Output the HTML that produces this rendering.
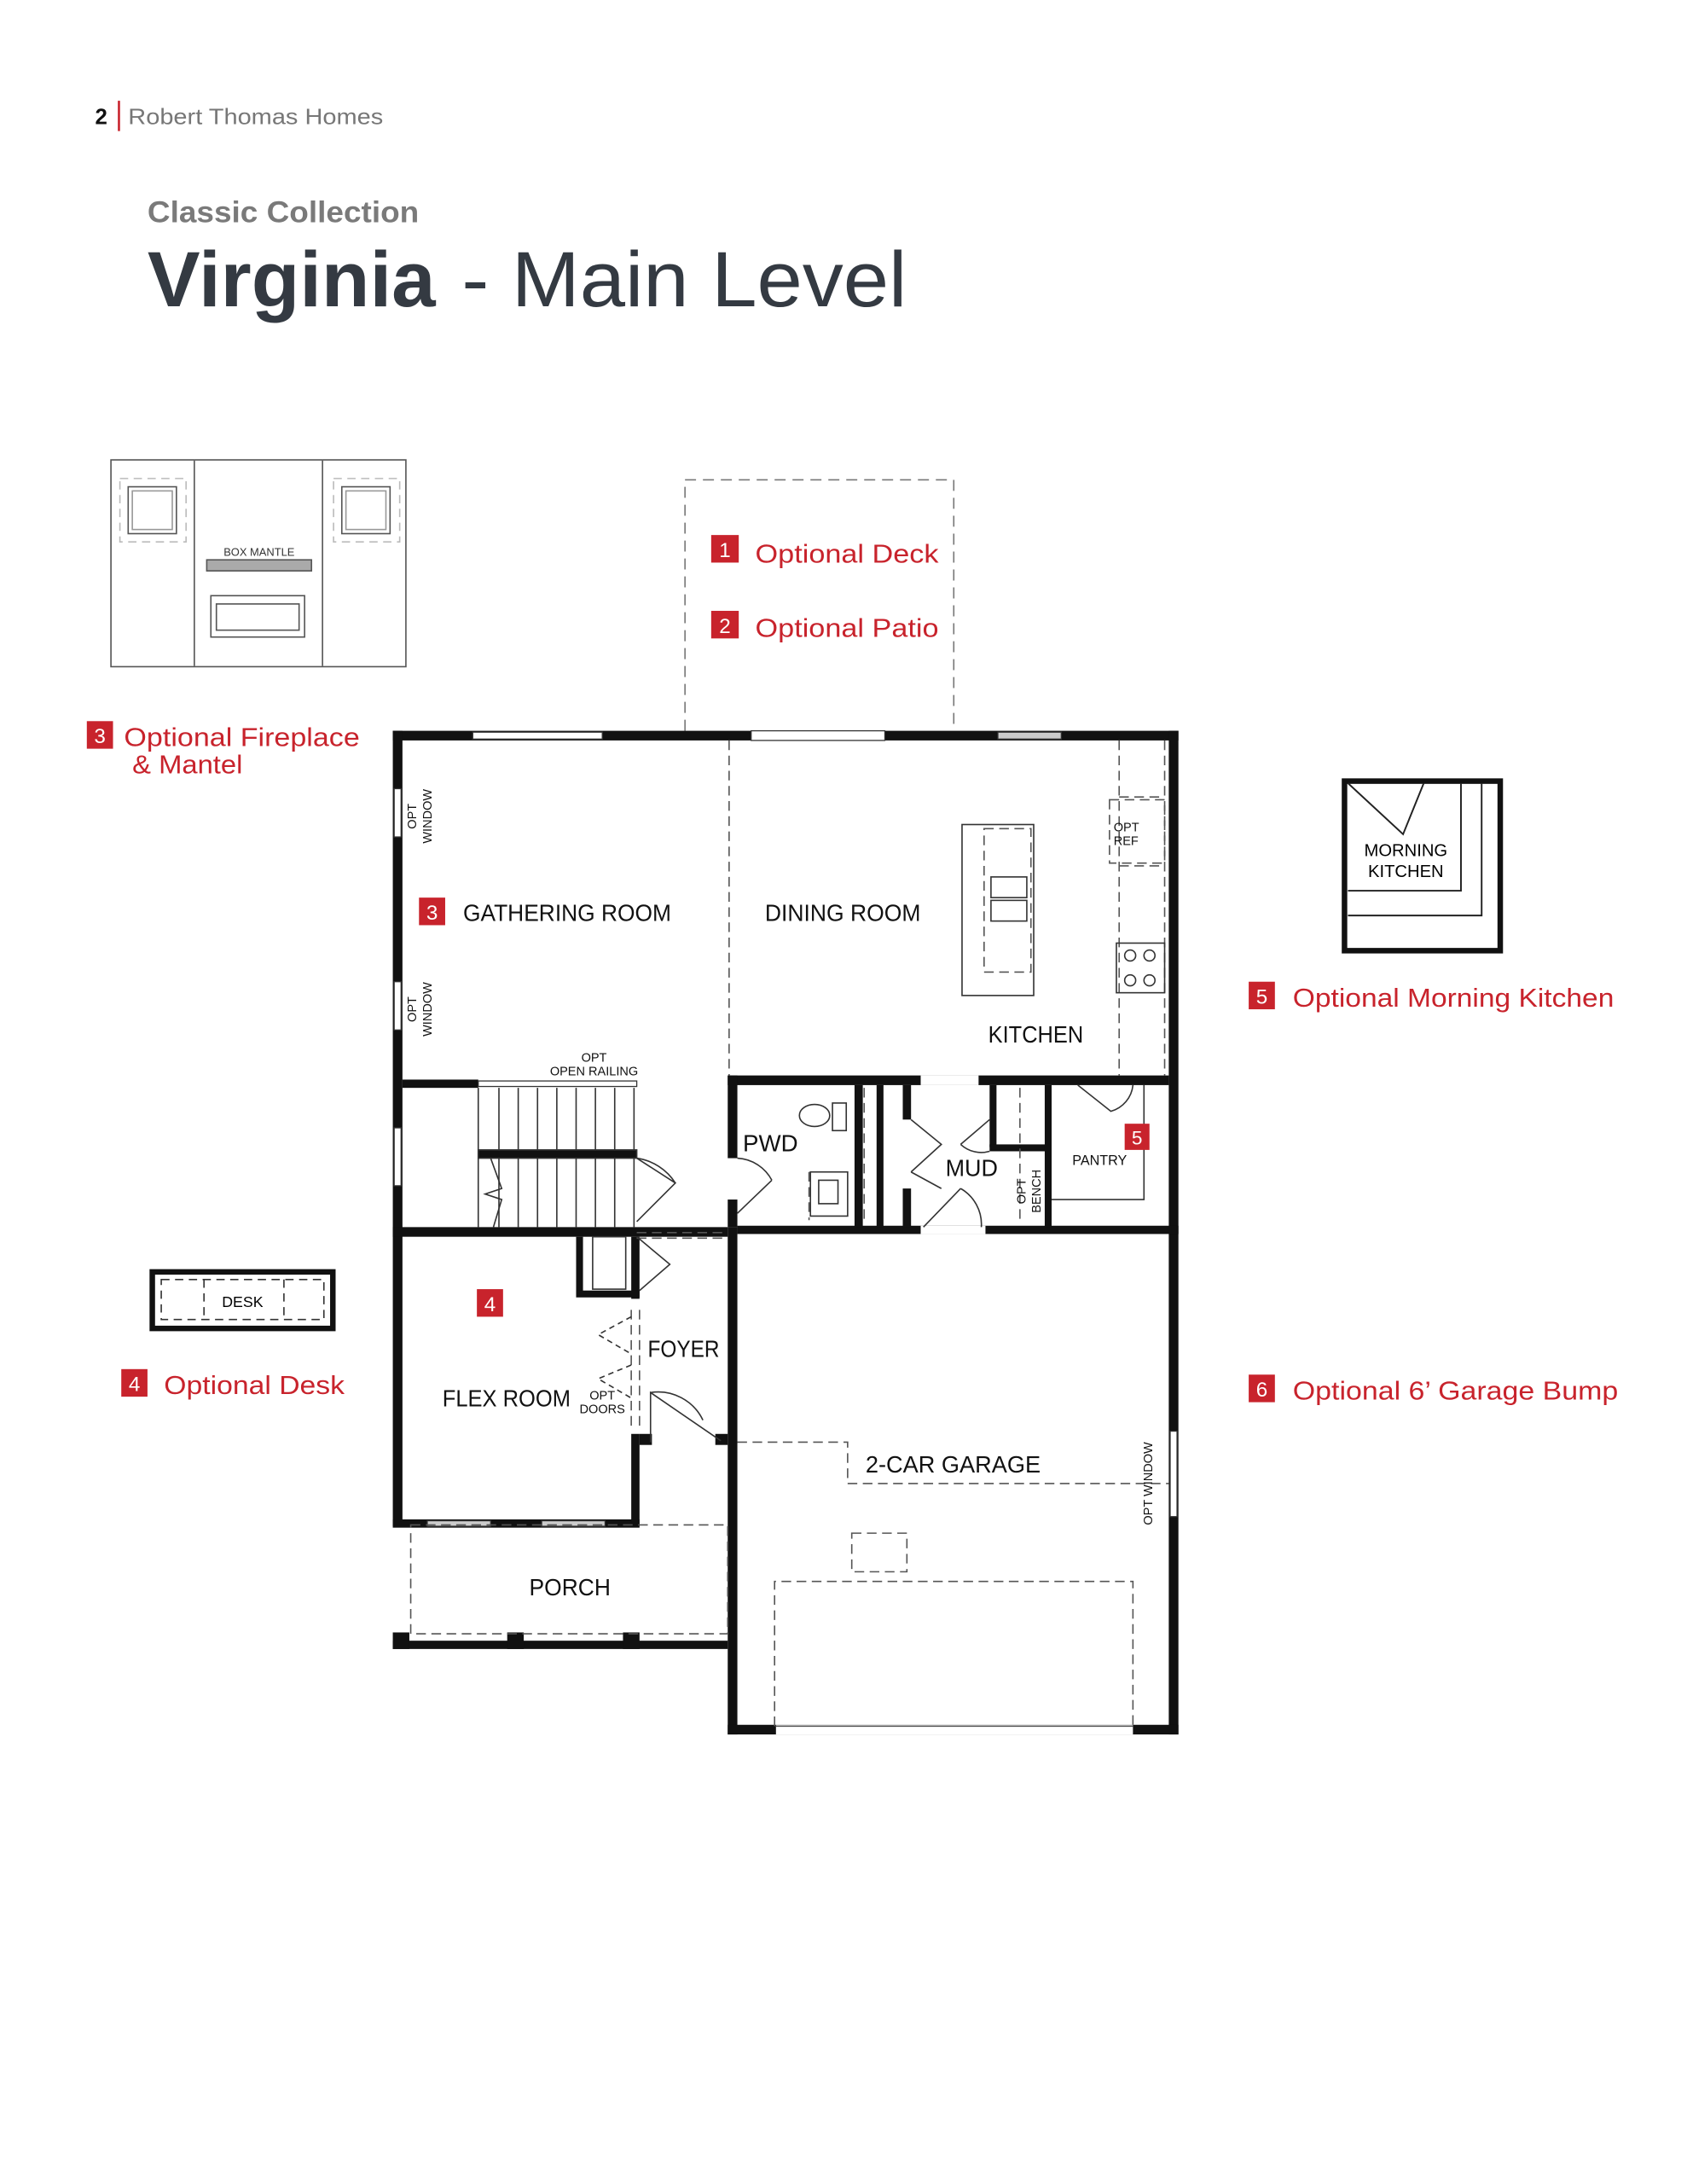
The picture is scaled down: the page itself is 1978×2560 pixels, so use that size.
<!DOCTYPE html>
<html><head><meta charset="utf-8"><style>
html,body{margin:0;padding:0;background:#fff}
svg{display:block}
text{font-family:"Liberation Sans",sans-serif}
</style></head><body>
<svg width="1978" height="2560" viewBox="0 0 1224 1584" xmlns="http://www.w3.org/2000/svg">
<rect width="1224" height="1584" fill="#fff"/>
<!-- header -->
<text x="69" y="90" font-size="16" font-weight="bold" fill="#111">2</text>
<rect x="85.5" y="73" width="1.6" height="22" fill="#c8232c"/>
<text x="93" y="90" font-size="16" fill="#777" textLength="185" lengthAdjust="spacingAndGlyphs">Robert Thomas Homes</text>
<text x="107" y="161" font-size="22" font-weight="bold" fill="#7a7a7a" textLength="197" lengthAdjust="spacingAndGlyphs">Classic Collection</text>
<text x="107" y="222" font-size="57" fill="#343a42" font-weight="bold" textLength="209" lengthAdjust="spacingAndGlyphs">Virginia</text>
<text x="335" y="222" font-size="57" fill="#343a42" textLength="323" lengthAdjust="spacingAndGlyphs">- Main Level</text>

<!-- fireplace elevation -->
<g fill="none" stroke="#555" stroke-width="1">
<rect x="80.5" y="333.5" width="214" height="150"/>
<line x1="141" y1="334" x2="141" y2="483"/><line x1="234" y1="334" x2="234" y2="483"/>
<rect x="93" y="353" width="35" height="34"/><rect x="96" y="356" width="29" height="28" stroke="#999"/>
<rect x="87" y="347" width="48" height="46" stroke="#bbb" stroke-dasharray="6 4"/>
<rect x="248" y="353" width="35" height="34"/><rect x="251" y="356" width="29" height="28" stroke="#999"/>
<rect x="242" y="347" width="48" height="46" stroke="#bbb" stroke-dasharray="6 4"/>
<rect x="150" y="406" width="76" height="8" fill="#aaa"/>
<rect x="153" y="432" width="68" height="30"/><rect x="157" y="438" width="60" height="19"/>
</g>
<text x="188" y="403" font-size="8" text-anchor="middle" fill="#333">BOX MANTLE</text>

<!-- red labels -->
<g font-size="19" fill="#c8232c">
<rect x="63" y="523" width="19" height="20"/><text x="72.5" y="539" fill="#fff" font-size="15" text-anchor="middle">3</text>
<text x="90" y="541" textLength="171" lengthAdjust="spacingAndGlyphs">Optional Fireplace</text><text x="96" y="561" textLength="80" lengthAdjust="spacingAndGlyphs">&amp; Mantel</text>
<rect x="516" y="388" width="20" height="20"/><text x="526" y="404" fill="#fff" font-size="15" text-anchor="middle">1</text>
<text x="548" y="408" textLength="133" lengthAdjust="spacingAndGlyphs">Optional Deck</text>
<rect x="516" y="443" width="20" height="20"/><text x="526" y="459" fill="#fff" font-size="15" text-anchor="middle">2</text>
<text x="548" y="462" textLength="133" lengthAdjust="spacingAndGlyphs">Optional Patio</text>
<rect x="906" y="712" width="19" height="20"/><text x="915.5" y="728" fill="#fff" font-size="15" text-anchor="middle">5</text>
<text x="938" y="730" textLength="233" lengthAdjust="spacingAndGlyphs">Optional Morning Kitchen</text>
<rect x="88" y="993" width="19" height="20"/><text x="97.5" y="1009" fill="#fff" font-size="15" text-anchor="middle">4</text>
<text x="119" y="1011" textLength="131" lengthAdjust="spacingAndGlyphs">Optional Desk</text>
<rect x="906" y="997" width="19" height="20"/><text x="915.5" y="1013" fill="#fff" font-size="15" text-anchor="middle">6</text>
<text x="938" y="1015" textLength="236" lengthAdjust="spacingAndGlyphs">Optional 6’ Garage Bump</text>
</g>

<!-- deck dashed -->
<path d="M497 530 V348 H692 V530" fill="none" stroke="#777" stroke-dasharray="8 5"/>

<!-- morning kitchen -->
<rect x="975.5" y="566.5" width="113" height="123" fill="none" stroke="#111" stroke-width="4"/>
<path d="M978 568 L1018 605 L1033 568 M1060 568 V646 H978 M1075 568 V664 H978" fill="none" stroke="#222" stroke-width="1.2"/>
<text x="1020" y="621" font-size="12.5" text-anchor="middle">MORNING</text>
<text x="1020" y="636" font-size="12.5" text-anchor="middle">KITCHEN</text>

<!-- desk -->
<rect x="110.5" y="922.5" width="131" height="41" fill="none" stroke="#111" stroke-width="4"/>
<rect x="117" y="928" width="118" height="29" fill="none" stroke="#333" stroke-dasharray="6 4"/>
<line x1="148" y1="928" x2="148" y2="957" stroke="#333" stroke-dasharray="6 4"/>
<line x1="206" y1="928" x2="206" y2="957" stroke="#333" stroke-dasharray="6 4"/>
<text x="176" y="948" font-size="11" text-anchor="middle">DESK</text>

<!-- PLAN walls -->
<g fill="#111">
<rect x="285" y="530" width="570" height="7"/>
<rect x="285" y="530" width="7" height="577"/>
<rect x="848" y="530" width="7" height="728"/>
<rect x="528" y="890" width="7" height="368"/>
<rect x="528" y="1251" width="327" height="7"/>
<rect x="285" y="890" width="243" height="7"/>
<rect x="535" y="889" width="320" height="6"/>
<rect x="292" y="783" width="55" height="6"/>
<rect x="528" y="780" width="320" height="7"/>
<rect x="528" y="780" width="7" height="60"/>
<rect x="528" y="870" width="7" height="20"/>
<rect x="620" y="787" width="6" height="103"/>
<rect x="636" y="787" width="5" height="103"/>
<rect x="655" y="787" width="6" height="25"/>
<rect x="655" y="862" width="6" height="28"/>
<rect x="718" y="787" width="5" height="45"/>
<rect x="718" y="830" width="42" height="5"/>
<rect x="758" y="787" width="5" height="103"/>
<rect x="285" y="1102" width="179" height="6"/>
<rect x="458" y="1040" width="6" height="67"/>
<rect x="458" y="897" width="6" height="45"/>
<rect x="418" y="897" width="5" height="43"/>
<rect x="418" y="936" width="46" height="5"/>
<rect x="464" y="1040" width="9" height="8"/>
<rect x="519" y="1040" width="9" height="8"/>
<rect x="285" y="1190" width="243" height="6"/>
<rect x="285" y="1184" width="12" height="12"/>
<rect x="368" y="1184" width="12" height="12"/>
<rect x="452" y="1184" width="12" height="12"/>
</g>
<!-- windows / openings (white over walls) -->
<g fill="#fff" stroke="#333" stroke-width="0.8">
<rect x="343" y="531" width="94" height="5"/>
<rect x="545" y="530" width="97" height="7"/>
<rect x="724" y="531" width="46" height="5" fill="#ccc"/>
<rect x="286" y="572" width="5" height="35"/>
<rect x="286" y="712" width="5" height="35"/>
<rect x="286" y="818" width="5" height="42"/>
<rect x="310" y="1103" width="46" height="4" fill="#ccc"/>
<rect x="393" y="1103" width="46" height="4" fill="#ccc"/>
<rect x="849" y="1038" width="5" height="62"/>
<rect x="668" y="780" width="42" height="7" stroke="none"/>
<rect x="668" y="889" width="47" height="6" stroke="none"/>
<rect x="563" y="1251" width="259" height="7" stroke="none"/>
<rect x="347" y="784" width="115" height="4"/>
</g>
<line x1="563" y1="1252" x2="822" y2="1252" stroke="#555"/>
<!-- dashed plan lines -->
<g fill="none" stroke="#555" stroke-dasharray="7 4" stroke-width="1">
<line x1="529" y1="537" x2="529" y2="780"/>
<rect x="298" y="1106" width="230" height="79"/>
<path d="M535 1046 H615 V1076 H848"/>
<rect x="618" y="1112" width="40" height="28"/>
<path d="M562 1252 V1147 H822 V1252"/>
<line x1="462" y1="894" x2="528" y2="894"/>
<line x1="462" y1="898" x2="528" y2="898"/>
<path d="M812 537 V780 M845 537 V780 M812 578 H845 M812 628 H845"/>
<rect x="805" y="580" width="40" height="46"/>
<rect x="714" y="601" width="34" height="104"/>
<line x1="740" y1="789" x2="740" y2="888"/>
<line x1="458" y1="950" x2="458" y2="1035"/>
<line x1="464" y1="950" x2="464" y2="1035"/>
<line x1="627" y1="789" x2="627" y2="888"/>
<line x1="587" y1="850" x2="587" y2="885"/>
</g>
<!-- island & appliances -->
<g fill="none" stroke="#333" stroke-width="1">
<rect x="698" y="598" width="52" height="124"/>
<rect x="719" y="636" width="26" height="15"/><rect x="719" y="653" width="26" height="15"/>
<rect x="810" y="684" width="35" height="36"/>
<circle cx="820" cy="693" r="4"/><circle cx="834" cy="693" r="4"/><circle cx="820" cy="711" r="4"/><circle cx="834" cy="711" r="4"/>
<ellipse cx="591" cy="809" rx="11" ry="8"/><rect x="604" y="800" width="10" height="20"/>
<rect x="588" y="850" width="27" height="32"/><rect x="594" y="856" width="14" height="17"/>
<line x1="347" y1="789" x2="347" y2="890"/>
<path d="M362 789 V890 M376 789 V890 M390 789 V890 M404 789 V890 M418 789 V890 M432 789 V890 M446 789 V890 M460 789 V890"/>
<rect x="347" y="834" width="115" height="6" fill="#111"/>
<path d="M356 840 L364 862 L352 866 L364 870 L358 890" />
<path d="M462 840 L490 858 L462 886 M462 840 A40 40 0 0 1 490 858"/>
<path d="M535 880 L560 856 M560 856 A30 30 0 0 0 535 840"/>
<path d="M462 897 L486 917 L464 936"/>
<path d="M472 1046 V1010 L523 1045 M472 1010 A36 36 0 0 1 510 1030"/>
<path d="M670 890 L697 862 M697 862 A30 30 0 0 1 712 890"/>
<path d="M661 812 L683 830 L661 850 M661 850 L683 862"/>
<path d="M718 812 L697 830 M697 830 A22 22 0 0 0 718 835"/>
<path d="M782 787 L806 806 A22 22 0 0 0 822 787"/>
<path d="M763 870 H830 V787"/>
<path d="M458 955 L434 968 L458 982 M458 990 L434 1000 L458 1014" stroke-dasharray="4 3"/>
<rect x="430" y="897" width="24" height="38"/>
</g>
<!-- room labels -->
<g font-size="17" fill="#111">
<rect x="304" y="651" width="19" height="20" fill="#c8232c"/><text x="313.5" y="667" fill="#fff" font-size="15" text-anchor="middle">3</text>
<text x="336" y="668" textLength="151" lengthAdjust="spacingAndGlyphs">GATHERING ROOM</text>
<text x="555" y="668" textLength="113" lengthAdjust="spacingAndGlyphs">DINING ROOM</text>
<text x="717" y="756" textLength="69" lengthAdjust="spacingAndGlyphs">KITCHEN</text>
<text x="539" y="835" textLength="40" lengthAdjust="spacingAndGlyphs">PWD</text>
<text x="686" y="853" textLength="38" lengthAdjust="spacingAndGlyphs">MUD</text>
<rect x="816" y="815" width="18" height="19" fill="#c8232c"/><text x="825" y="830" fill="#fff" font-size="14" text-anchor="middle">5</text>
<text x="778" y="845" font-size="10">PANTRY</text>
<rect x="346" y="935" width="19" height="20" fill="#c8232c"/><text x="355.5" y="951" fill="#fff" font-size="15" text-anchor="middle">4</text>
<text x="321" y="1020" textLength="93" lengthAdjust="spacingAndGlyphs">FLEX ROOM</text>
<text x="470" y="984" textLength="52" lengthAdjust="spacingAndGlyphs">FOYER</text>
<text x="384" y="1157" textLength="59" lengthAdjust="spacingAndGlyphs">PORCH</text>
<text x="628" y="1068" textLength="127" lengthAdjust="spacingAndGlyphs">2-CAR GARAGE</text>
</g>
<g font-size="9" fill="#111" text-anchor="middle">
<text x="431" y="770">OPT</text><text x="431" y="780">OPEN RAILING</text>
<text x="437" y="1015">OPT</text><text x="437" y="1025">DOORS</text>
<text x="808" y="603" text-anchor="start">OPT</text><text x="808" y="613" text-anchor="start">REF</text>
<text transform="translate(302,592) rotate(-90)">OPT</text><text transform="translate(313,592) rotate(-90)">WINDOW</text>
<text transform="translate(302,732) rotate(-90)">OPT</text><text transform="translate(313,732) rotate(-90)">WINDOW</text>
<text transform="translate(744,864) rotate(-90)">OPT</text><text transform="translate(755,864) rotate(-90)">BENCH</text>
<text transform="translate(836,1076) rotate(-90)">OPT WINDOW</text>
</g>
</svg>
</body></html>
